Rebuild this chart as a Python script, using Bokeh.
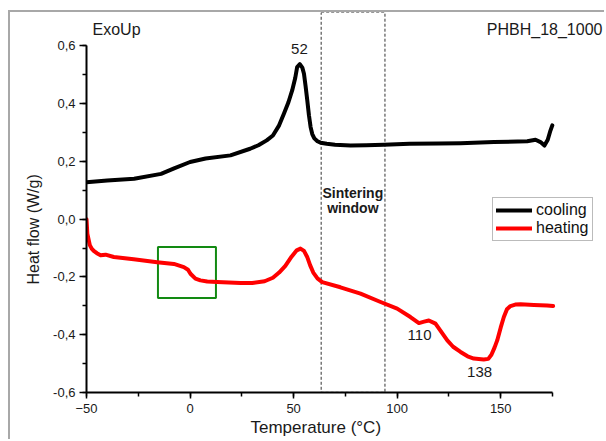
from bokeh.plotting import figure
from bokeh.models import (Range1d, SingleIntervalTicker, CustomJSTickFormatter,
                          Legend, LegendItem, ColumnDataSource, Title)
from bokeh.core.properties import value
from bokeh.embed import file_html
from bokeh.resources import INLINE

FONT = "Liberation Sans"

# ---- data -------------------------------------------------------------
cool_T = [-50, -40, -27, -14, -8, 0, 7.5, 19.5, 29, 33, 37, 40, 43, 45.3,
          47.5, 49.3, 50.8, 51.7, 53, 54.2, 55, 55.8, 56.6, 57.4, 58.2, 59,
          60, 61.5, 63, 66, 70, 77.5, 85, 93.6, 106, 120, 130.6, 146.7, 162.8,
          166.8, 169.2, 171.1, 172.7, 174, 174.9]
cool_v = [0.128, 0.134, 0.140, 0.157, 0.175, 0.198, 0.210, 0.221, 0.244,
          0.256, 0.273, 0.290, 0.325, 0.365, 0.405, 0.446, 0.490, 0.527,
          0.537, 0.525, 0.504, 0.460, 0.411, 0.360, 0.319, 0.295, 0.280,
          0.270, 0.265, 0.261, 0.258, 0.255, 0.256, 0.258, 0.261, 0.262,
          0.263, 0.267, 0.270, 0.275, 0.267, 0.255, 0.275, 0.307, 0.325]

heat_T = [-50, -49.6, -48.4, -47.5, -46.5, -45, -43.2, -40.8, -36.8, -27.2,
          -15.9, -7.8, -3, -1, 0.2, 2.6, 5, 8.3, 13.1, 24.4, 30, 36, 40, 43,
          46, 49, 51.5, 53.3, 55, 56.5, 58, 59.5, 61.5, 63.8, 72.6, 82.3, 92,
          100, 106.4, 110.5, 113, 115.3, 118.5, 124.2, 127, 130.6, 134, 137,
          141.8, 144, 145.5, 147, 148.3, 150, 151.5, 153, 154.7, 157, 159.6,
          166, 172.4, 175.3]
heat_v = [0.0, -0.05, -0.09, -0.102, -0.11, -0.118, -0.125, -0.123, -0.131,
          -0.139, -0.149, -0.155, -0.166, -0.175, -0.189, -0.206, -0.212,
          -0.216, -0.218, -0.221, -0.221, -0.215, -0.203, -0.185, -0.162,
          -0.130, -0.108, -0.102, -0.110, -0.130, -0.160, -0.185, -0.205,
          -0.218, -0.236, -0.258, -0.287, -0.310, -0.339, -0.360, -0.355,
          -0.351, -0.362, -0.420, -0.442, -0.460, -0.475, -0.483, -0.486,
          -0.484, -0.470, -0.445, -0.420, -0.375, -0.339, -0.312, -0.301,
          -0.296, -0.295, -0.297, -0.299, -0.301]

series_names = ["cooling", "heating"]

window_x = [63.3, 94.1]          # sintering window (°C)
box_x = [-15.5, 12.5]            # highlighted glass transition region
box_y = [-0.273, -0.096]

peak_labels = ["52", "110", "138"]
peak_x = [52.8, 110.8, 139.8]
peak_y = [0.588, -0.403, -0.531]

x_ticks_major = 50
y_ticks_major = 0.2

# ---- figure -----------------------------------------------------------
p = figure(width=596, height=429, output_backend="svg", toolbar_location=None,
           x_range=Range1d(-50.0005, 200.1), y_range=Range1d(-0.6005, 0.716),
           min_border_left=76, min_border_right=2, min_border_top=0,
           min_border_bottom=49)
p.margin = (10, 0, 0, 8)
p.styles = {"border-top": "2px solid #a8a8a8", "border-left": "2px solid #a8a8a8"}
p.outline_line_color = None
p.grid.visible = False
p.background_fill_color = "white"
p.border_fill_color = "white"

# axes
for ax in (p.xaxis[0], p.yaxis[0]):
    ax.axis_line_width = 2
    ax.axis_line_color = "black"
    ax.major_tick_line_width = 1.5
    ax.minor_tick_line_width = 1.5
    ax.major_tick_line_color = "black"
    ax.minor_tick_line_color = "black"
    ax.major_tick_in = 0
    ax.minor_tick_in = 0
    ax.major_label_text_font = FONT
    ax.major_label_text_font_size = "13px"
    ax.major_label_text_color = "#1a1a1a"

p.xaxis.ticker = SingleIntervalTicker(interval=x_ticks_major, num_minor_ticks=2)
p.yaxis.ticker = SingleIntervalTicker(interval=y_ticks_major, num_minor_ticks=2)
p.xaxis.bounds = (-50.001, 175.001)
p.yaxis.bounds = (-0.6001, 0.6001)
p.xaxis.major_tick_out = 6
p.xaxis.minor_tick_out = 4
p.yaxis.major_tick_out = 7
p.yaxis.minor_tick_out = 4
p.xaxis.major_label_standoff = 5
p.yaxis.major_label_standoff = 4
p.yaxis.formatter = CustomJSTickFormatter(
    code="var s = tick.toFixed(1).replace('.', ','); return s == '-0,0' ? '0,0' : s;")

# axis titles (placed as side titles so they can be centred on the drawn axis)
p.add_layout(Title(text="Temperature (°C)", align="left", offset=164,
                   standoff=0, text_font=FONT, text_font_size="17px",
                   text_font_style="normal", text_color="#1a1a1a"), "below")
p.add_layout(Title(text="Heat flow (W/g)", align="left", offset=108,
                   standoff=18, text_font=FONT, text_font_size="16px",
                   text_font_style="normal", text_color="#1a1a1a"), "left")

# sintering window (dashed box)
p.quad(left=[window_x[0]], right=[window_x[1]], bottom=[-0.6], top=[0.716],
       fill_color=None, line_color="#333333", line_width=1, line_dash="3 2")

# green box
p.quad(left=[box_x[0]], right=[box_x[1]], bottom=[box_y[0]], top=[box_y[1]],
       fill_color=None, line_color="#128a12", line_width=2)

# curves
r_cool = p.line(cool_T, cool_v, line_color="black", line_width=4,
                line_join="round", line_cap="round")
r_heat = p.line(heat_T, heat_v, line_color="#ff0000", line_width=4,
                line_join="round", line_cap="round")

legend = Legend(items=[LegendItem(label=series_names[0], renderers=[r_cool]),
                       LegendItem(label=series_names[1], renderers=[r_heat])],
                location=(406, 151), margin=0, padding=3, spacing=0,
                glyph_width=36, glyph_height=18, label_height=18,
                label_standoff=4, label_text_font=FONT,
                label_text_font_size="16px", label_text_color="#111111",
                border_line_color="#777777", border_line_width=1,
                background_fill_color="white", background_fill_alpha=1)
p.add_layout(legend)

# annotations
src_peaks = ColumnDataSource(dict(x=peak_x, y=peak_y, t=peak_labels))
p.text(x="x", y="y", text="t", source=src_peaks, text_font=value(FONT),
       text_font_size="15px", text_align="center", text_baseline="middle",
       text_color="#1a1a1a")

p.text(x=[78.6, 78.6], y=[0.089, 0.037], text=["Sintering", "window"],
       text_font=value(FONT), text_font_size="14px", text_font_style="bold",
       text_align="center", text_baseline="middle", text_color="#1a1a1a")

p.text(x=[-47.1], y=[0.657], text=["ExoUp"], text_font=value(FONT),
       text_font_size="16px", text_align="left", text_baseline="middle",
       text_color="#1a1a1a")
p.text(x=[199.1], y=[0.657], text=["PHBH_18_1000"], text_font=value(FONT),
       text_font_size="16px", text_align="right", text_baseline="middle",
       text_color="#1a1a1a")

open("out.html", "w").write(file_html(p, INLINE))
